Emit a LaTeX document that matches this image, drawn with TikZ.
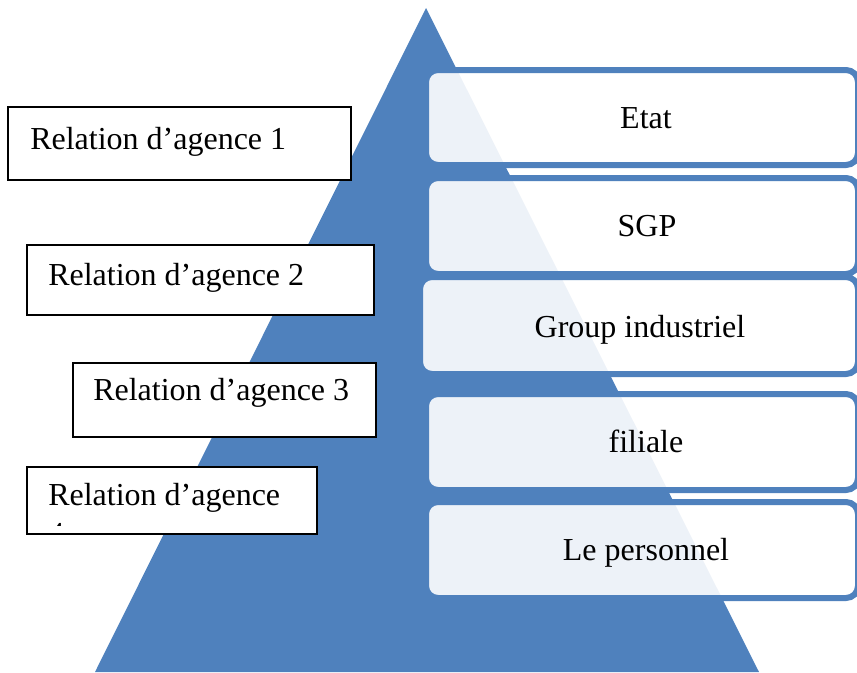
\documentclass[tikz,border=0pt]{standalone}
\usepackage{fontspec}
\setmainfont{Liberation Serif}
\definecolor{pyrblue}{HTML}{4F81BD}
\begin{document}
\begin{tikzpicture}[x=0.75pt,y=-0.75pt,
  tier/.style={draw=pyrblue, line width=4.5pt, fill=white, fill opacity=0.9,
    rounded corners=9pt, inner sep=0pt, minimum width=324pt},
  tiertext/.style={anchor=base, inner sep=0pt, font=\fontsize{24}{29}\selectfont},
  relbox/.style={draw=black, line width=1.5pt, fill=white, inner sep=0pt},
  reltext/.style={anchor=base west, inner sep=0pt, font=\fontsize{24}{29}\selectfont}]
\useasboundingbox (0,0) rectangle (857,672);

% pyramid
\fill[pyrblue] (426,8) -- (759,672) -- (95,672) -- cycle;

% agency relation boxes on the left
\node[relbox, minimum width=257.25pt, minimum height=54.75pt] (rel1) at (179.5,143.5) {};
\node[relbox, minimum width=260.25pt, minimum height=52.5pt] (rel2) at (200.5,280) {};
\node[relbox, minimum width=227.25pt, minimum height=55.5pt] (rel3) at (224.5,400) {};
\node[relbox, minimum width=217.5pt, minimum height=50.25pt] (rel4) at (172,500.5) {};

\node[reltext] (rel1t) at (30,149) {Relation d’agence 1};
\node[reltext] (rel2t) at (48,285) {Relation d’agence 2};
\node[reltext] (rel3t) at (93,400) {Relation d’agence 3};
\node[reltext] (rel4t) at (48,505) {Relation d’agence};
\begin{scope}
  \clip (29,469) rectangle (315,525);
  \node[reltext] (rel4n) at (48,544) {4};
\end{scope}

% levels of the hierarchy
\node[tier, minimum height=71.25pt] (etatbox) at (642,117.5) {};
\node[tier, minimum height=72pt] (sgpbox) at (642,226) {};
\node[tier, minimum width=328.5pt, minimum height=72.75pt] (groupbox) at (639,325.5) {};
\node[tier, minimum height=72pt] (filialebox) at (642,442) {};
\node[tier, minimum height=72pt] (persobox) at (642,550) {};

\node[tiertext] (etat) at (646,128) {Etat};
\node[tiertext] (sgp) at (647,236) {SGP};
\node[tiertext] (group) at (640,337) {Group industriel};
\node[tiertext] (filiale) at (646,452) {filiale};
\node[tiertext] (perso) at (646,560) {Le personnel};
\end{tikzpicture}
\end{document}
